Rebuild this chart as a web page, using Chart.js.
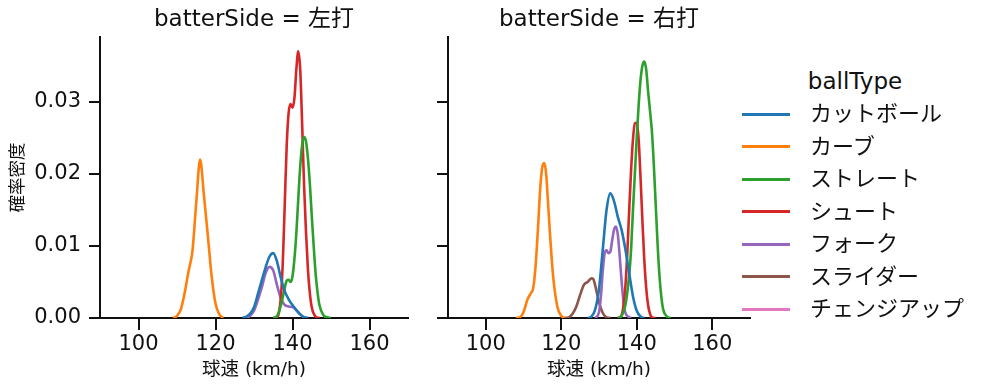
<!DOCTYPE html>
<html>
<head>
<meta charset="utf-8">
<script src="https://cdn.jsdelivr.net/npm/chart.js@4.4.1/dist/chart.umd.min.js"></script>
<style>
  body { margin: 0; background: #fff; }
  #wrap { position: relative; width: 987px; height: 391px; overflow: hidden;
          font-family: 'DejaVu Sans', 'Noto Sans CJK JP', sans-serif; color: #111; }
  #left { position: absolute; left: 0; top: 0; }
  #right { position: absolute; left: 420px; top: 0; }
  .lg-title { position: absolute; left: 760px; width: 190px; text-align: center; font-size: 23px; line-height: 30px; }
  .lg-line { position: absolute; left: 742px; width: 48px; height: 3px; }
  .lg-text { position: absolute; left: 810px; font-size: 22px; line-height: 30px; white-space: nowrap; }
</style>
</head>
<body>
<div id="wrap">
  <canvas id="left" width="420" height="391"></canvas>
  <canvas id="right" width="340" height="391"></canvas>
</div>
<script>
const ballTypes = ['カットボール', 'カーブ', 'ストレート', 'シュート', 'フォーク', 'スライダー', 'チェンジアップ'];
const colors = ['#1f77b4', '#ff7f0e', '#2ca02c', '#d62728', '#9467bd', '#8c564b', '#e377c2'];
const xTicks = [100, 120, 140, 160];
const yTicks = [0, 0.01, 0.02, 0.03];

// 左打
const lCutSpeed = [127,128,129,130,131,132,133,134,135,136,137,138,139,140,141,142,143,144];
const lCutDens  = [0,0.0002,0.0006,0.0015,0.0033,0.0052,0.0070,0.0085,0.0090,0.0078,0.0055,0.0037,0.0026,0.0018,0.0011,0.0005,0.0001,0];
const lCurveSpeed = [109,110,111,112,113,113.5,114,115,116,117,118,119,120,121,122];
const lCurveDens  = [0,0.0003,0.0012,0.0035,0.0065,0.0077,0.0092,0.0160,0.0220,0.0170,0.0115,0.0058,0.0020,0.0005,0];
const lFastSpeed = [135,136,137,138,138.5,139,139.5,140,140.5,141,141.5,142,142.5,143,143.5,144,144.5,145,145.5,146,146.5,147,148,149,150];
const lFastDens  = [0,0.0003,0.0018,0.0042,0.0052,0.0053,0.0050,0.0058,0.0082,0.0118,0.0165,0.0210,0.0240,0.0251,0.0245,0.0222,0.0187,0.0142,0.0100,0.0062,0.0036,0.0018,0.0004,0.0001,0];
const lShootSpeed = [135,136,136.5,137,137.5,138,138.5,139,139.5,140,140.5,141,141.5,142,142.5,143,143.5,144,144.5,145,146,147];
const lShootDens  = [0,0.0001,0.0008,0.0030,0.0080,0.0160,0.0240,0.0285,0.0297,0.0292,0.0305,0.0345,0.0370,0.0345,0.0270,0.0185,0.0120,0.0068,0.0035,0.0015,0.0002,0];
const lForkSpeed = [128,129,130,131,132,133,134,135,136,137,138,139,140,141,142,143,144];
const lForkDens  = [0,0.0003,0.0010,0.0025,0.0042,0.0062,0.0071,0.0066,0.0045,0.0027,0.0018,0.0016,0.0015,0.0011,0.0005,0.0001,0];

// 右打
const rCutSpeed = [127,128,129,130,131,132,133,134,135,136,137,138,139,140,141,142];
const rCutDens  = [0,0.0002,0.0012,0.0040,0.0095,0.0150,0.0173,0.0162,0.0140,0.0122,0.0095,0.0062,0.0030,0.0010,0.0002,0];
const rCurveSpeed = [108,109,110,111,112,112.5,113,113.5,114,114.5,115,115.5,116,116.5,117,117.5,118,119,120,121];
const rCurveDens  = [0,0.0001,0.0008,0.0025,0.0035,0.0040,0.0060,0.0095,0.0140,0.0185,0.0210,0.0215,0.0200,0.0160,0.0118,0.0080,0.0050,0.0015,0.0003,0];
const rFastSpeed = [135,136,137,138,138.5,139,139.5,140,140.5,141,141.5,142,142.5,143,143.5,144,144.5,145,145.5,146,146.5,147,148,149];
const rFastDens  = [0,0.0003,0.0018,0.0060,0.0095,0.0150,0.0200,0.0250,0.0295,0.0330,0.0350,0.0356,0.0345,0.0315,0.0288,0.0260,0.0215,0.0160,0.0105,0.0060,0.0030,0.0012,0.0002,0];
const rShootSpeed = [135,136,137,137.5,138,138.5,139,139.5,140,140.5,141,141.5,142,142.5,143,143.5,144,145];
const rShootDens  = [0,0.0004,0.0045,0.0090,0.0150,0.0205,0.0248,0.0270,0.0271,0.0248,0.0195,0.0135,0.0080,0.0042,0.0018,0.0006,0.0001,0];
const rForkSpeed = [129,130,130.5,131,131.5,132,132.5,133,133.5,134,134.5,135,135.5,136,136.5,137,138,138.5];
const rForkDens  = [0,0.0008,0.0030,0.0065,0.0090,0.0094,0.0090,0.0092,0.0108,0.0123,0.0127,0.0115,0.0085,0.0050,0.0022,0.0007,0.0001,0];
const rSliderSpeed = [121,122,123,124,125,126,127,128,128.5,129,130,131,132,133];
const rSliderDens  = [0,0.0001,0.0006,0.0016,0.0032,0.0046,0.0050,0.0055,0.0054,0.0045,0.0022,0.0007,0.0001,0];

const textColor = '#111';
Chart.defaults.font.family = "'DejaVu Sans', 'Noto Sans CJK JP', sans-serif";
Chart.defaults.color = textColor;

function pts(xs, ys) {
  return xs.map((x, i) => ({ x: x, y: ys[i] }));
}

function makePanel(id, title, series, showY, yWidth, padRight) {
  const datasets = ballTypes.map((name, i) => ({
    label: name,
    data: series[i] ? pts(series[i][0], series[i][1]) : [],
    borderColor: colors[i],
    borderWidth: 2.6,
    pointRadius: 0,
    fill: false,
    cubicInterpolationMode: 'monotone'
  }));
  new Chart(document.getElementById(id), {
    type: 'line',
    data: { datasets: datasets },
    options: {
      responsive: false,
      animation: false,
      devicePixelRatio: 1,
      layout: { padding: { left: 0, right: padRight, top: 0, bottom: 0 } },
      plugins: {
        legend: { display: false },
        tooltip: { enabled: false },
        title: {
          display: true, text: title, fullSize: false, color: textColor,
          font: { size: 23, weight: 'normal' }, padding: { top: 6.2, bottom: 3.2 }
        }
      },
      scales: {
        x: {
          type: 'linear', min: 90, max: 170,
          afterBuildTicks: s => { s.ticks = xTicks.map(v => ({ value: v })); },
          afterFit: s => { s.height = 73; },
          grid: { drawOnChartArea: false, drawTicks: true, tickLength: 12, color: textColor, lineWidth: 2 },
          border: { display: true, color: textColor, width: 2 },
          ticks: { color: textColor, font: { size: 21 }, padding: 2, maxRotation: 0 },
          title: { display: true, text: '球速 (km/h)', color: textColor, font: { size: 18.5 }, padding: { top: 0, bottom: 10 } }
        },
        y: {
          type: 'linear', min: 0, max: 0.039,
          afterBuildTicks: s => { s.ticks = yTicks.map(v => ({ value: v })); },
          afterFit: s => { s.width = yWidth; },
          grid: { drawOnChartArea: false, drawTicks: true, tickLength: 11, color: textColor, lineWidth: 2 },
          border: { display: true, color: textColor, width: 2 },
          ticks: { display: showY, color: textColor, font: { size: 21 }, padding: 8, callback: v => v.toFixed(2) },
          title: { display: showY, text: '確率密度', color: textColor, font: { size: 17.5 }, padding: { top: 7.5, bottom: 0 } }
        }
      }
    }
  });
}

makePanel('left', 'batterSide = 左打', [
  [lCutSpeed, lCutDens], [lCurveSpeed, lCurveDens], [lFastSpeed, lFastDens],
  [lShootSpeed, lShootDens], [lForkSpeed, lForkDens], null, null
], true, 100, 12);

makePanel('right', 'batterSide = 右打', [
  [rCutSpeed, rCutDens], [rCurveSpeed, rCurveDens], [rFastSpeed, rFastDens],
  [rShootSpeed, rShootDens], [rForkSpeed, rForkDens], [rSliderSpeed, rSliderDens], null
], false, 28, 10);

// legend
const wrap = document.getElementById('wrap');
const lt = document.createElement('div');
lt.className = 'lg-title';
lt.style.top = (81 - 15) + 'px';
lt.textContent = 'ballType';
wrap.appendChild(lt);
ballTypes.forEach((name, i) => {
  const y = 114 + i * 32.5;
  const line = document.createElement('div');
  line.className = 'lg-line';
  line.style.top = (y - 1.5) + 'px';
  line.style.background = colors[i];
  wrap.appendChild(line);
  const t = document.createElement('div');
  t.className = 'lg-text';
  t.style.top = (y - 15) + 'px';
  t.textContent = name;
  wrap.appendChild(t);
});
</script>
</body>
</html>
